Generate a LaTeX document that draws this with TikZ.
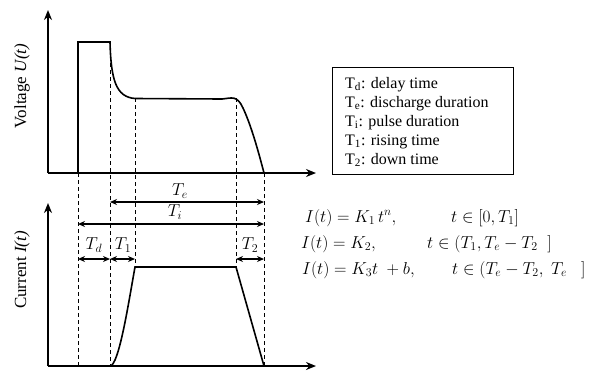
\documentclass[tikz,border=0pt]{standalone}
\usepackage{fontspec}
\setmainfont{Liberation Serif}
\usetikzlibrary{arrows.meta}
\tikzset{
  axis/.style={line width=1.8pt,-{Stealth[length=10pt,width=8pt]}},
  curve/.style={line width=1.6pt},
  guide/.style={line width=0.9pt,dash pattern=on 4pt off 3pt},
  dim/.style={line width=1.4pt,{Stealth[length=7pt,width=6pt]}-{Stealth[length=7pt,width=6pt]}},
  lbl/.style={font=\fontsize{17}{19}\selectfont},
  leg/.style={font=\fontsize{16}{19}\selectfont,anchor=base west,inner sep=0pt},
  eq/.style={font=\fontsize{18}{20}\selectfont,anchor=base west,inner sep=0pt},
}
\begin{document}
\begin{tikzpicture}[x=1pt,y=-1pt]
\useasboundingbox (0,0) rectangle (613,373);
% coordinates
\coordinate (a) at (78,0);
\coordinate (b) at (110,0);
\coordinate (c) at (135,0);
\coordinate (d) at (236,0);
\coordinate (e) at (264,0);
% axes
\draw[axis] (48,173) -- (48,10);
\draw[axis] (48,173) -- (316,173);
\draw[axis] (48,366) -- (48,203);
\draw[axis] (48,366) -- (316,366);
% axis labels
\node[lbl,rotate=90] (vl) at (22,86) {Voltage \textit{U(t)}};
\node[lbl,rotate=90] (cl) at (22,270) {Current \textit{I(t)}};
% voltage curve
\draw[curve] (78,173) -- (78,42) -- (110,42)
  .. controls (111,80) and (116,97) .. (135,98.5)
  -- (222,99) .. controls (232,98) and (237,95) .. (243,108)
  .. controls (251,125) and (258,150) .. (264,173);
% current curve
\draw[curve] (110,366) .. controls (119,366) and (129,300) .. (135,267)
  -- (236,267) -- (264,366);
% guide lines
\draw[guide] (a |- 0,173) -- (a |- 0,366);
\draw[guide] (b |- 0,42) -- (b |- 0,366);
\draw[guide] (c |- 0,98) -- (c |- 0,267);
\draw[guide] (d |- 0,98) -- (d |- 0,267);
\draw[guide] (e |- 0,173) -- (e |- 0,366);
% dimension arrows
\draw[dim] (b |- 0,202) -- (e |- 0,202);
\draw[dim] (a |- 0,224) -- (e |- 0,224);
\draw[dim] (a |- 0,259) -- (b |- 0,259);
\draw[dim] (b |- 0,259) -- (c |- 0,259);
\draw[dim] (d |- 0,259) -- (e |- 0,259);
\node[lbl] (te) at (180,191) {$T_e$};
\node[lbl] (ti) at (175,212) {$T_i$};
\node[lbl] (td) at (94,245) {$T_d$};
\node[lbl] (t1) at (123,245) {$T_1$};
\node[lbl] (t2) at (250,245) {$T_2$};
% legend
\draw[line width=1pt] (332,67) rectangle (513,174);
\node[leg] (l1) at (345,88) {T\textsubscript{d}: delay time};
\node[leg] (l2) at (345,107) {T\textsubscript{e}: discharge duration};
\node[leg] (l3) at (345,126) {T\textsubscript{i}: pulse duration};
\node[leg] (l4) at (345,145) {T\textsubscript{1}: rising time};
\node[leg] (l5) at (345,164) {T\textsubscript{2}: down time};
% equations
\node[eq] (e1) at (305,222) {$I(t) = K_1\, t^n,$};
\node[eq] (e1b) at (451,222) {$t \in [0, T_1]$};
\node[eq] (e2) at (301,248) {$I(t) = K_2,$};
\node[eq] (e2b) at (427,248) {$t \in (T_1, T_e - T_2\;\;]$};
\node[eq] (e3) at (302,274) {$I(t) = K_3t\ + b,$};
\node[eq] (e3b) at (452,274) {$t \in (T_e - T_2,\; T_e\hspace{14pt}]$};
\end{tikzpicture}
\end{document}
